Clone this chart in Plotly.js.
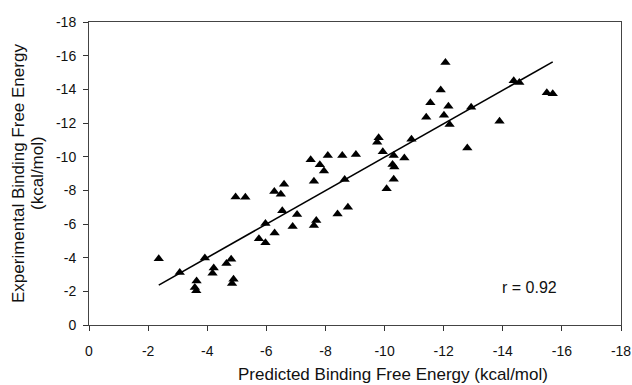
<!DOCTYPE html>
<html>
<head>
<meta charset="utf-8">
<script src="https://cdn.plot.ly/plotly-3.0.1.min.js"></script>
<style>html,body{margin:0;padding:0;background:#fff;}#chart{width:632px;height:385px;}</style>
</head>
<body>
<div id="chart"></div>
<script>
const predicted = [-2.36,-3.07,-3.64,-3.58,-3.63,-3.92,-4.22,-4.18,-4.65,-4.81,-4.89,-4.84,-4.96,-5.29,-5.75,-5.97,-5.97,-6.28,-6.27,-6.49,-6.60,-6.54,-6.89,-7.04,-7.50,-7.61,-7.61,-7.69,-7.81,-7.95,-8.08,-8.41,-8.57,-8.65,-8.76,-9.03,-9.75,-9.80,-9.94,-10.07,-10.31,-10.27,-10.33,-10.31,-10.67,-10.91,-11.41,-11.55,-11.90,-12.06,-12.01,-12.16,-12.20,-12.80,-12.93,-13.89,-14.37,-14.56,-15.49,-15.69];
const experimental = [-3.94,-3.12,-2.62,-2.23,-2.03,-3.98,-3.39,-3.08,-3.65,-3.90,-2.72,-2.46,-7.61,-7.59,-5.13,-4.89,-6.03,-5.46,-7.93,-7.77,-8.36,-6.78,-5.85,-6.57,-9.82,-8.54,-5.91,-6.21,-9.52,-9.15,-10.07,-6.59,-10.07,-8.64,-7.00,-10.13,-10.86,-11.12,-10.29,-8.10,-10.07,-9.54,-9.38,-8.66,-9.92,-11.04,-12.34,-13.21,-13.96,-15.60,-12.46,-12.99,-11.91,-10.51,-12.93,-12.11,-14.51,-14.41,-13.80,-13.74];
const fitX = [-2.36, -15.69];
const fitY = [-2.37, -15.63];
const tickValues = [0,-2,-4,-6,-8,-10,-12,-14,-16,-18];
const tickLabels = ["0","-2","-4","-6","-8","-10","-12","-14","-16","-18"];
const rLabel = "r = 0.92";
const xTitle = "Predicted Binding Free Energy (kcal/mol)";
const yTitle1 = "Experimental Binding Free Energy";
const yTitle2 = "(kcal/mol)";

const FONT = "Liberation Sans, Arial, sans-serif";

const traces = [
  {x: fitX, y: fitY, type: 'scatter', mode: 'lines', line: {color: '#000', width: 1.6}, hoverinfo: 'skip', showlegend: false},
  {x: predicted, y: experimental, type: 'scatter', mode: 'markers',
   marker: {symbol: 'triangle-up', size: 9, color: '#000', line: {width: 0}}, showlegend: false}
];

const axisCommon = {
  tickvals: tickValues, ticktext: tickLabels,
  ticks: 'outside', ticklen: 5, tickwidth: 1, tickcolor: '#333',
  showline: true, linecolor: '#444', linewidth: 1, mirror: true,
  showgrid: false, zeroline: false,
  tickfont: {family: FONT, size: 14, color: '#111'},
  fixedrange: true
};

const layout = {
  width: 632, height: 385,
  margin: {l: 89, r: 11, t: 22, b: 60},
  paper_bgcolor: '#fff', plot_bgcolor: '#fff',
  font: {family: FONT, color: '#111'},
  xaxis: Object.assign({}, axisCommon, {range: [0, -18], ticklabelstandoff: 8}),
  yaxis: Object.assign({}, axisCommon, {range: [0, -18], ticklabelstandoff: 4}),
  annotations: [
    {text: rLabel, x: -14.9, y: -2.23, xref: 'x', yref: 'y', showarrow: false,
     font: {family: FONT, size: 16, color: '#111'}, xanchor: 'center', yanchor: 'middle'},
    {text: xTitle, x: 0.571, y: -0.162, xref: 'paper', yref: 'paper', showarrow: false,
     font: {family: FONT, size: 17, color: '#111'}, xanchor: 'center', yanchor: 'middle'},
    {text: yTitle1, x: -0.1325, y: 0.5, xref: 'paper', yref: 'paper', showarrow: false, textangle: -90,
     font: {family: FONT, size: 17, color: '#111'}, xanchor: 'center', yanchor: 'middle'},
    {text: yTitle2, x: -0.0968, y: 0.5, xref: 'paper', yref: 'paper', showarrow: false, textangle: -90,
     font: {family: FONT, size: 17, color: '#111'}, xanchor: 'center', yanchor: 'middle'}
  ]
};

Plotly.newPlot('chart', traces, layout, {displayModeBar: false, staticPlot: true});
</script>
</body>
</html>
